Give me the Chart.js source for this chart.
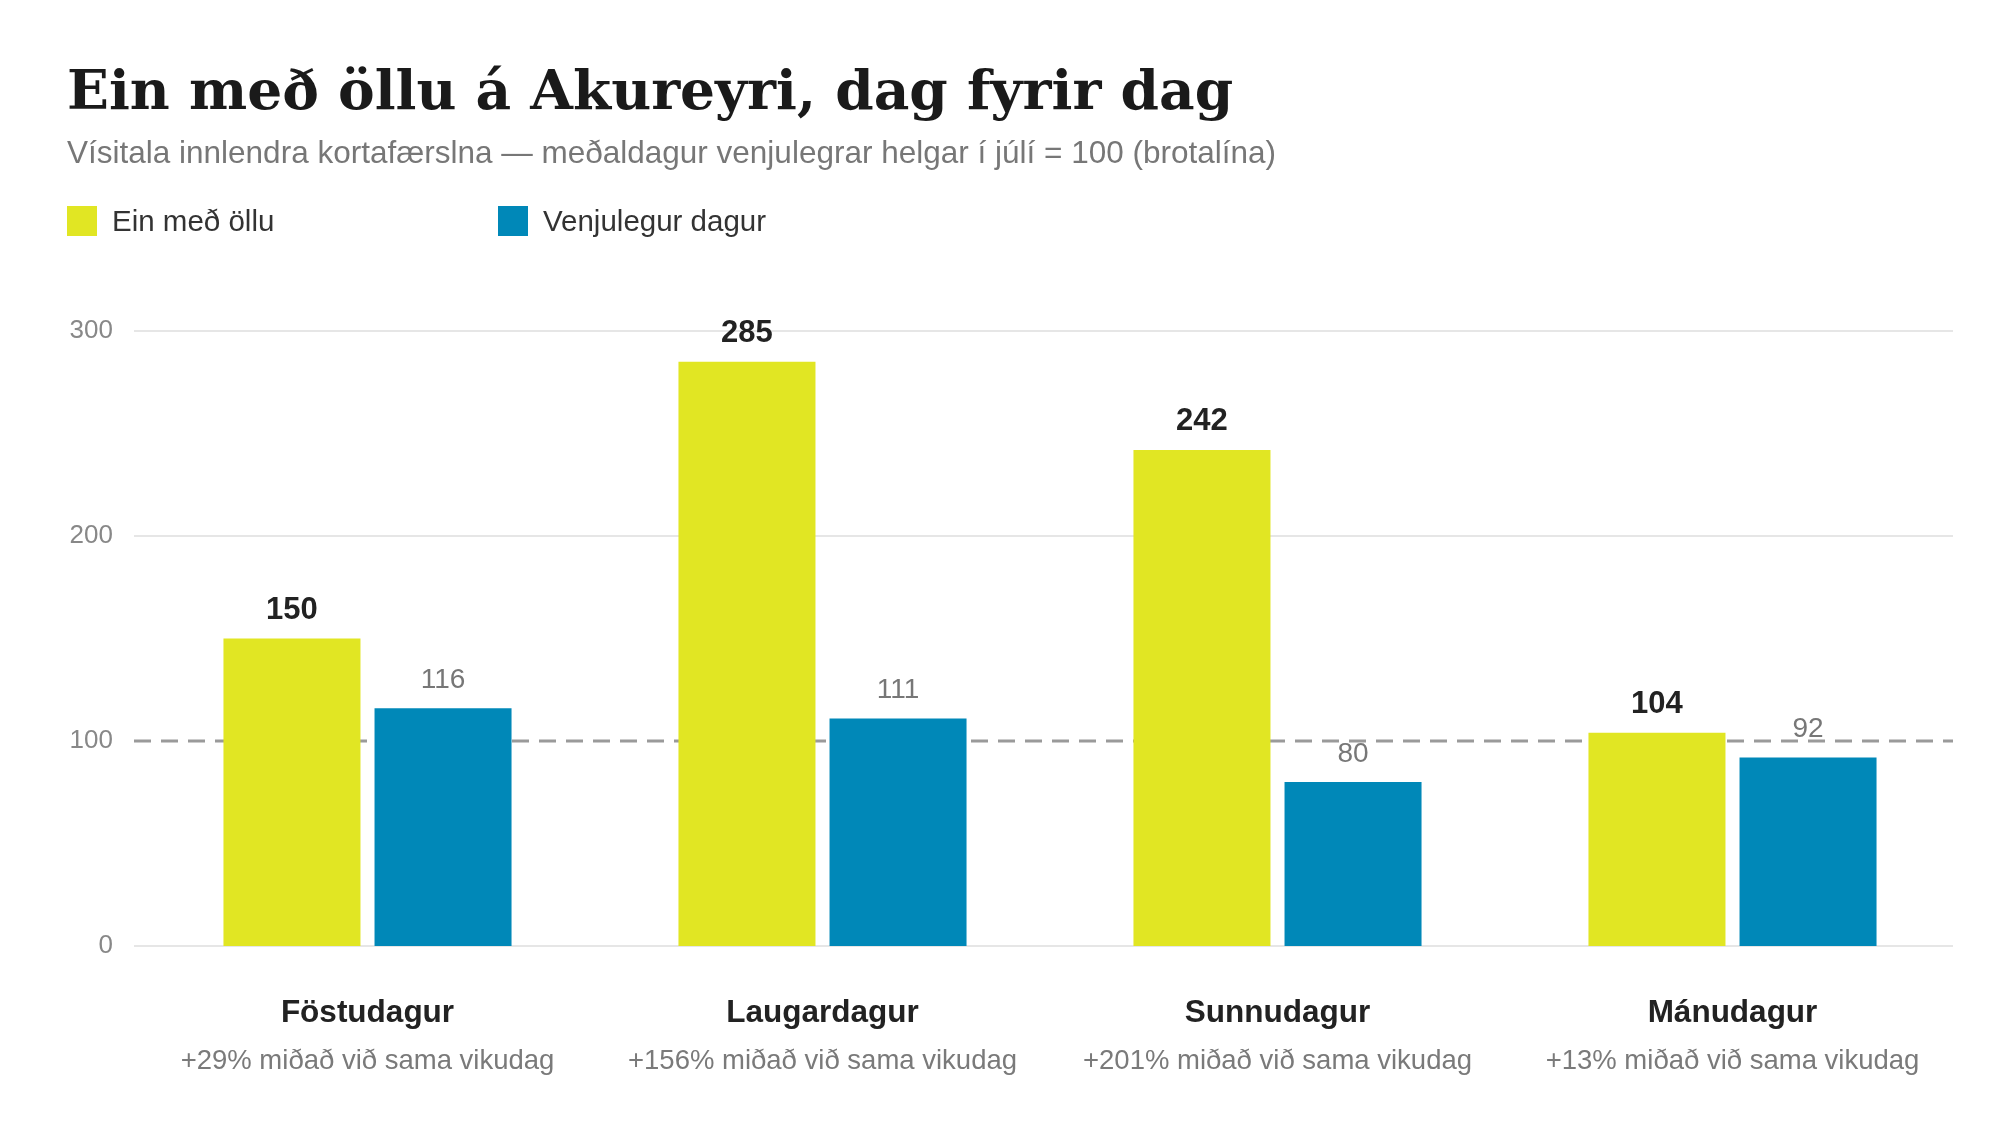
<!DOCTYPE html>
<html lang="is">
<head>
<meta charset="utf-8">
<title>Ein með öllu á Akureyri</title>
<script src="https://cdn.jsdelivr.net/npm/chart.js@4.4.1/dist/chart.umd.min.js"></script>
<style>
  html, body { margin: 0; padding: 0; background: #fff; }
  #wrap { position: relative; width: 2000px; height: 1135px; overflow: hidden; }
  #chart { position: absolute; left: 0; top: 0; }
  .title { position: absolute; left: 67px; top: 62px; font: bold 55px/1 "DejaVu Serif", serif; color: #1a1a1a; white-space: nowrap; }
  .subtitle { position: absolute; left: 67px; top: 137px; font: 31.5px/1 "Liberation Sans", Arial, sans-serif; color: #777; white-space: nowrap; }
  .legend { position: absolute; top: 206px; left: 67px; font: 29.5px/30px "Liberation Sans", Arial, sans-serif; color: #333; }
  .legend span { position: absolute; white-space: nowrap; }
  .legend i { position: absolute; width: 30px; height: 30px; top: 0; }
</style>
</head>
<body>
<div id="wrap">
  <canvas id="chart" width="2000" height="1135"></canvas>
  <div class="title">Ein með öllu á Akureyri, dag fyrir dag</div>
  <div class="subtitle">Vísitala innlendra kortafærslna — meðaldagur venjulegrar helgar í júlí = 100 (brotalína)</div>
  <div class="legend" id="legend"></div>
</div>
<script>
// gögn
const categories = ['Föstudagur', 'Laugardagur', 'Sunnudagur', 'Mánudagur'];
const einMedOllu = [150, 285, 242, 104];
const venjulegurDagur = [116, 111, 80, 92];
const breyting = ['+29%', '+156%', '+201%', '+13%'];
const yTicks = [0, 100, 200, 300];
const vidmid = 100;

const seriesNames = ['Ein með öllu', 'Venjulegur dagur'];
const seriesColors = ['#e1e623', '#0088b8'];

// legend
const legend = document.getElementById('legend');
const legendX = [0, 431];
seriesNames.forEach((name, i) => {
  const box = document.createElement('i');
  box.style.left = legendX[i] + 'px';
  box.style.background = seriesColors[i];
  const txt = document.createElement('span');
  txt.style.left = (legendX[i] + 45) + 'px';
  txt.textContent = name;
  legend.appendChild(box);
  legend.appendChild(txt);
});

const sans = '"Liberation Sans", Arial, sans-serif';

// gridlines + dashed 100 line, a bit left of the bars
const gridAndRef = {
  id: 'gridAndRef',
  beforeDatasetsDraw(chart) {
    const { ctx, chartArea, scales } = chart;
    const x0 = chartArea.left - 6, x1 = chartArea.right - 7;
    ctx.save();
    yTicks.forEach(v => {
      if (v === vidmid) return;
      const y = scales.y.getPixelForValue(v);
      ctx.strokeStyle = '#e6e6e6';
      ctx.lineWidth = 2;
      ctx.beginPath();
      ctx.moveTo(x0, y);
      ctx.lineTo(x1, y);
      ctx.stroke();
    });
    const y = scales.y.getPixelForValue(vidmid);
    ctx.strokeStyle = '#9a9a9a';
    ctx.lineWidth = 3;
    ctx.setLineDash([17, 10]);
    ctx.beginPath();
    ctx.moveTo(x0, y);
    ctx.lineTo(x1, y);
    ctx.stroke();
    ctx.restore();
  }
};

const valueLabels = {
  id: 'valueLabels',
  afterDatasetsDraw(chart) {
    const { ctx } = chart;
    ctx.save();
    ctx.textAlign = 'center';
    ctx.textBaseline = 'alphabetic';
    chart.data.datasets.forEach((ds, di) => {
      const meta = chart.getDatasetMeta(di);
      ctx.font = di === 0 ? 'bold 31px ' + sans : '28px ' + sans;
      ctx.fillStyle = di === 0 ? '#222' : '#777';
      meta.data.forEach((bar, i) => {
        ctx.fillText(ds.data[i], bar.x, bar.y - 20);
      });
    });
    ctx.restore();
  }
};

const xLabels = {
  id: 'xLabels',
  afterDraw(chart) {
    const { ctx, chartArea, scales } = chart;
    ctx.save();
    ctx.textAlign = 'center';
    ctx.textBaseline = 'middle';
    categories.forEach((c, i) => {
      const x = scales.x.getPixelForValue(i);
      ctx.font = 'bold 31.5px ' + sans;
      ctx.fillStyle = '#222';
      ctx.fillText(c, x, chartArea.bottom + 67);
      ctx.font = '27.5px ' + sans;
      ctx.fillStyle = '#7a7a7a';
      ctx.fillText(breyting[i] + ' miðað við sama vikudag', x, chartArea.bottom + 115);
    });
    ctx.restore();
  }
};

new Chart(document.getElementById('chart'), {
  type: 'bar',
  data: {
    labels: categories,
    datasets: [
      { label: seriesNames[0], data: einMedOllu, backgroundColor: seriesColors[0] },
      { label: seriesNames[1], data: venjulegurDagur, backgroundColor: seriesColors[1] }
    ]
  },
  options: {
    responsive: false,
    animation: false,
    devicePixelRatio: 1,
    categoryPercentage: 0.664,
    barPercentage: 0.907,
    layout: { padding: { top: 331, right: 40, bottom: 189, left: 0 } },
    plugins: {
      legend: { display: false },
      tooltip: { enabled: false }
    },
    scales: {
      x: {
        ticks: { display: false },
        grid: { display: false },
        border: { display: false },
        afterFit(scale) { scale.height = 0; }
      },
      y: {
        min: 0,
        max: 300,
        afterBuildTicks(scale) { scale.ticks = yTicks.map(v => ({ value: v })); },
        afterFit(scale) { scale.width = 140; },
        border: { display: false },
        grid: { display: false, drawTicks: false },
        ticks: {
          padding: 27,
          color: '#888',
          font: { family: sans, size: 26 }
        }
      }
    }
  },
  plugins: [gridAndRef, valueLabels, xLabels]
});
</script>
</body>
</html>
